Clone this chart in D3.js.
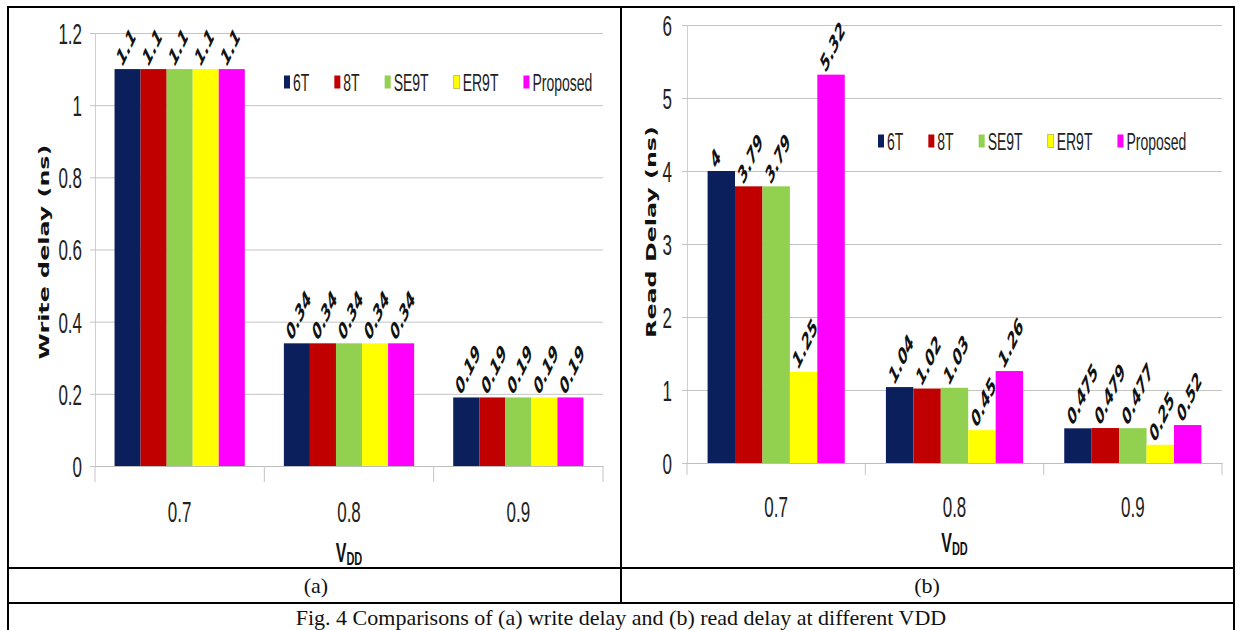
<!DOCTYPE html>
<html>
<head>
<meta charset="utf-8">
<script src="https://cdn.jsdelivr.net/npm/d3@7"></script>
<style>
	body { margin: 0; background: #fff; }
</style>
</head>
<body>
<div id="fig"></div>
<script>
// ----------------------------------
// DATA
// ----------------------------------
const categories = ['0.7', '0.8', '0.9'];
const seriesNames = ['6T', '8T', 'SE9T', 'ER9T', 'Proposed'];
const seriesColors = ['#0b1f5c', '#c00000', '#92d050', '#ffff00', '#ff00ff'];

const writeTicks = [0, 0.2, 0.4, 0.6, 0.8, 1, 1.2];
const readTicks = [0, 1, 2, 3, 4, 5, 6];

const write6T = [1.1, 0.34, 0.19];
const write8T = [1.1, 0.34, 0.19];
const writeSE9T = [1.1, 0.34, 0.19];
const writeER9T = [1.1, 0.34, 0.19];
const writeProposed = [1.1, 0.34, 0.19];

const read6T = [4, 1.04, 0.475];
const read8T = [3.79, 1.02, 0.479];
const readSE9T = [3.79, 1.03, 0.477];
const readER9T = [1.25, 0.45, 0.25];
const readProposed = [5.32, 1.26, 0.52];

const width = 1241, height = 630;
// the source picture is stretched vertically; text gets the same stretch
const k = 1.7;

const svg = d3.select('#fig')
	.append('svg')
	.attr('width', width)
	.attr('height', height)
	.style('font-family', '"Liberation Sans", Arial, sans-serif');

svg.append('rect').attr('width', width).attr('height', height).attr('fill', '#fff');

function buildRows(seriesValues){
	return categories.map((c, i) => ({
		cat: c,
		values: seriesNames.map((s, j) => ({ name: s, color: seriesColors[j], v: seriesValues[j][i] }))
	}));
}

function drawPanel(o){
	const innerWidth = o.right - o.left;

	const y = d3.scaleLinear()
		.domain([0, o.yMax])
		.range([o.bottom, o.top]);

	const x0 = d3.scaleBand()
		.domain(categories)
		.range([o.left, o.right]);

	const x1 = d3.scaleBand()
		.domain(seriesNames)
		.range([0, x0.bandwidth()])
		.paddingOuter(0.75);

	// value axis + gridlines
	const yAxis = d3.axisLeft(y)
		.tickValues(o.ticks)
		.tickSizeInner(-innerWidth)
		.tickSizeOuter(0)
		.tickPadding(o.tickPad)
		.tickFormat(d => String(d));

	const yG = svg.append('g')
		.attr('transform', `translate(${o.left},0)`)
		.call(yAxis);
	yG.select('.domain').attr('stroke', '#cfcfcf');
	yG.selectAll('.tick line').attr('stroke', '#c4c4c4').attr('x1', -5);
	yG.selectAll('.tick text')
		.attr('font-family', '"Liberation Sans", Arial, sans-serif')
		.attr('font-size', 17)
		.attr('fill', '#222')
		.attr('dy', '0.36em')
		.attr('transform', `scale(1,${k})`);

	// category axis
	const xAxis = d3.axisBottom(x0).tickSize(0).tickPadding(0);
	const xG = svg.append('g')
		.attr('transform', `translate(0,${o.bottom})`)
		.call(xAxis);
	xG.select('.domain').attr('stroke', '#bdbdbd');
	xG.selectAll('.tick text')
		.attr('font-family', '"Liberation Sans", Arial, sans-serif')
		.attr('font-size', 17)
		.attr('fill', '#222')
		.attr('y', 0)
		.attr('dy', '0.36em')
		.attr('transform', `translate(0,${o.catOffset}) scale(1,${k})`);

	const bounds = categories.map(c => x0(c)).concat([x0.range()[1]]);
	svg.append('g').selectAll('line')
		.data(bounds)
		.enter()
		.append('line')
		.attr('x1', d => d).attr('x2', d => d)
		.attr('y1', o.bottom).attr('y2', o.bottom + o.sepLen)
		.attr('stroke', '#c4c4c4');

	// bars
	const groups = svg.append('g').selectAll('g')
		.data(o.rows)
		.enter()
		.append('g')
		.attr('transform', d => `translate(${x0(d.cat)},0)`);

	groups.selectAll('rect')
		.data(d => d.values)
		.enter()
		.append('rect')
		.attr('x', d => x1(d.name))
		.attr('y', d => y(d.v))
		.attr('width', x1.bandwidth())
		.attr('height', d => y(0) - y(d.v))
		.attr('fill', d => d.color);

	groups.selectAll('text')
		.data(d => d.values)
		.enter()
		.append('text')
		.attr('transform', d => `translate(${x1(d.name) + x1.bandwidth() / 2 - 5},${y(d.v) - 2}) scale(1,${k}) rotate(-51)`)
		.attr('text-anchor', 'start')
		.style('font-family', '"DejaVu Sans", Verdana, sans-serif')
		.style('font-size', '13px')
		.style('font-weight', 'bold')
		.style('font-style', 'italic')
		.style('fill', '#111')
		.text(d => String(d.v));

	// legend
	const legend = svg.append('g').attr('transform', `translate(${o.legendX},${o.legendY})`);
	let lx = 0;
	seriesNames.forEach((s, i) => {
		legend.append('rect')
			.attr('x', lx).attr('y', -6.5)
			.attr('width', 6).attr('height', 13)
			.attr('fill', seriesColors[i])
			.attr('stroke', s === 'ER9T' ? '#b8b84a' : 'none')
			.attr('stroke-width', 0.8);
		const t = legend.append('text')
			.attr('transform', `translate(${lx + 9},0) scale(1,${k})`)
			.attr('dy', '0.36em')
			.style('font-size', '14px')
			.style('fill', '#222')
			.text(s);
		lx += 9 + t.node().getComputedTextLength() + 25;
	});

	// value axis title
	svg.append('text')
		.attr('transform', `translate(${o.titleX},${o.titleY}) scale(1,${k}) rotate(-90)`)
		.attr('text-anchor', 'middle')
		.attr('dominant-baseline', 'central')
		.style('font-family', '"DejaVu Sans", Verdana, sans-serif')
		.style('font-size', '14px')
		.style('font-weight', 'bold')
		.style('fill', '#111')
		.text(o.title);

	// category axis title: V with DD subscript
	const vdd = svg.append('text')
		.attr('transform', `translate(${(o.left + o.right) / 2},${o.vddY}) scale(1,${k})`)
		.attr('text-anchor', 'middle')
		.style('font-weight', 'bold')
		.style('fill', '#111');
	vdd.append('tspan').style('font-size', '16px').text('V');
	vdd.append('tspan').style('font-size', '11px').attr('dy', 2).text('DD');
}

drawPanel({
	rows: buildRows([write6T, write8T, writeSE9T, writeER9T, writeProposed]),
	yMax: 1.2, ticks: writeTicks,
	left: 95, right: 603, top: 33, bottom: 466,
	tickPad: 13, catOffset: 46, sepLen: 16,
	legendX: 284, legendY: 82,
	title: 'Write delay (ns)', titleX: 44, titleY: 252,
	vddY: 562
});

drawPanel({
	rows: buildRows([read6T, read8T, readSE9T, readER9T, readProposed]),
	yMax: 6, ticks: readTicks,
	left: 687, right: 1222, top: 25, bottom: 463,
	tickPad: 15, catOffset: 44, sepLen: 12,
	legendX: 878, legendY: 141,
	title: 'Read Delay (ns)', titleX: 651, titleY: 232,
	vddY: 552
});

// ----------------------------------
// TABLE FRAME AND CAPTIONS
// ----------------------------------
const frame = svg.append('g').attr('stroke', '#000').attr('stroke-width', 2).attr('fill', 'none');
frame.append('rect').attr('x', 8).attr('y', 7).attr('width', 1226).attr('height', 626);
frame.append('line').attr('x1', 8).attr('x2', 1234).attr('y1', 568).attr('y2', 568);
frame.append('line').attr('x1', 8).attr('x2', 1234).attr('y1', 603).attr('y2', 603);
frame.append('line').attr('x1', 621).attr('x2', 621).attr('y1', 7).attr('y2', 603);

const caps = svg.append('g')
	.style('font-family', '"Liberation Serif", "Times New Roman", serif')
	.style('font-size', '22px')
	.attr('text-anchor', 'middle')
	.style('fill', '#111');
caps.append('text').attr('x', 316).attr('y', 593).text('(a)');
caps.append('text').attr('x', 927).attr('y', 593).text('(b)');
caps.append('text').attr('x', 621).attr('y', 625).text('Fig. 4 Comparisons of (a) write delay and (b) read delay at different VDD');
</script>
</body>
</html>
